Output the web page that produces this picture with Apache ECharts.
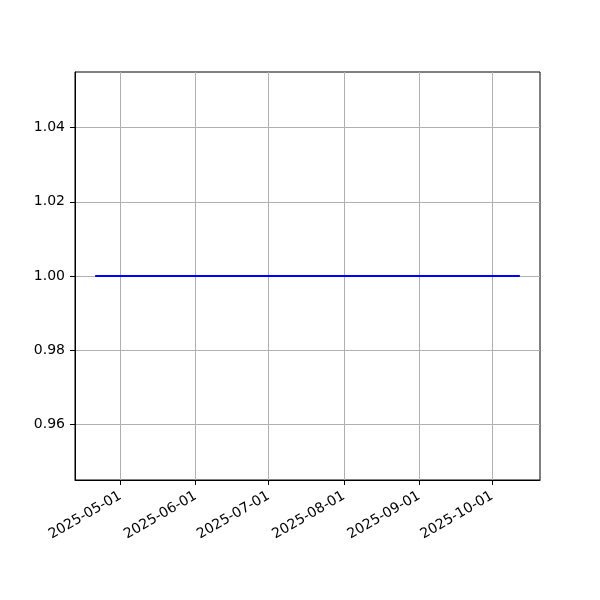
<!DOCTYPE html>
<html>
<head>
<meta charset="utf-8">
<script src="https://cdn.jsdelivr.net/npm/echarts@6/dist/echarts.min.js"></script>
<style>html,body{margin:0;padding:0;background:#fff}#c{width:600px;height:600px}</style>
</head>
<body>
<div id="c"></div>
<script>
// Data
var dates = ['2025-04-21', '2025-10-12'];
var values = [1.0, 1.0];
var xTickLabels = ['2025-05-01', '2025-06-01', '2025-07-01', '2025-08-01', '2025-09-01', '2025-10-01'];
var yTickLabels = [0.96, 0.98, 1.00, 1.02, 1.04];

function ts(s) { var p = s.split('-'); return Date.UTC(+p[0], +p[1] - 1, +p[2]); }
function fmt(v) {
  var d = new Date(v);
  var m = d.getUTCMonth() + 1, day = d.getUTCDate();
  return d.getUTCFullYear() + '-' + (m < 10 ? '0' : '') + m + '-' + (day < 10 ? '0' : '') + day;
}
var x0 = ts(dates[0]), x1 = ts(dates[dates.length - 1]);
var pad = (x1 - x0) * 0.05;
var xTicks = xTickLabels.map(ts);
var seriesData = dates.map(function (d, i) { return [ts(d), values[i]]; });

var font = 'DejaVu Sans';
var chart = echarts.init(document.getElementById('c'), null, { renderer: 'canvas' });
chart.setOption({
  animation: false,
  backgroundColor: '#fff',
  grid: { left: 75, right: 60, top: 72, bottom: 120, show: true, borderColor: '#000', borderWidth: 1, backgroundColor: 'transparent' },
  xAxis: {
    type: 'value',
    min: x0 - pad,
    max: x1 + pad,
    axisLine: { show: true, lineStyle: { color: '#000', width: 1 } },
    axisTick: { show: true, customValues: xTicks, length: 5, inside: false, lineStyle: { color: '#000', width: 1 } },
    axisLabel: {
      customValues: xTicks,
      rotate: 30,
      formatter: function (v) { return fmt(v); },
      color: '#000', fontFamily: font, fontSize: 14, margin: 15
    },
    splitLine: { show: true, lineStyle: { color: '#b0b0b0', width: 1 } }
  },
  yAxis: {
    type: 'value',
    min: 0.945,
    max: 1.055,
    axisLine: { show: true, lineStyle: { color: '#000', width: 1 } },
    axisTick: { show: true, customValues: yTickLabels, length: 5, lineStyle: { color: '#000', width: 1 } },
    axisLabel: {
      customValues: yTickLabels,
      formatter: function (v) { return v.toFixed(2); },
      color: '#000', fontFamily: font, fontSize: 14, margin: 10
    },
    splitLine: { show: true, lineStyle: { color: '#b0b0b0', width: 1 } }
  },
  series: [{
    type: 'line',
    data: seriesData,
    showSymbol: false,
    lineStyle: { color: '#0000ff', width: 2, cap: 'square' },
    itemStyle: { color: '#0000ff' }
  }]
});
</script>
</body>
</html>
